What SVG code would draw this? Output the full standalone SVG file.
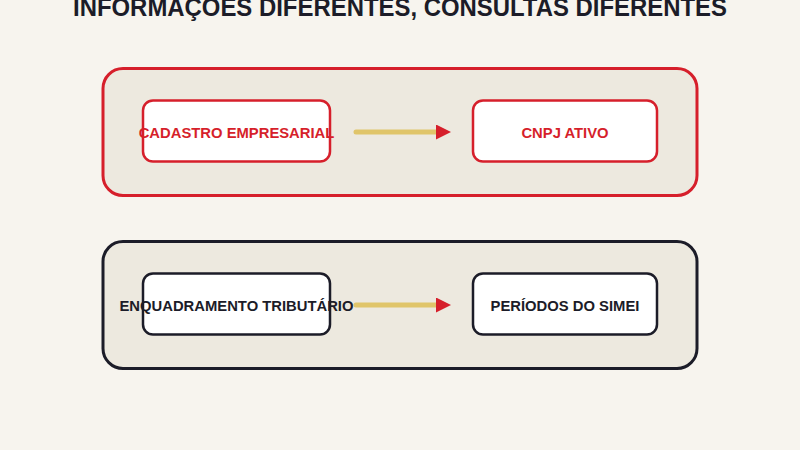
<svg xmlns="http://www.w3.org/2000/svg" width="800" height="450" viewBox="0 0 800 450">
<defs>
<style>
.bg{fill:#f7f4ee}
.outer{fill:#ede9df;stroke-width:3}
.inner{fill:#ffffff;stroke-width:2.5}
.red{stroke:#d61f2b}
.dark{stroke:#1c1c28}
.lbl{font-family:"Liberation Sans",Arial,sans-serif;font-weight:bold;font-size:14.8px;text-anchor:middle}
.tr{fill:#d61f2b}
.td{fill:#1c1c28}
.conn{stroke:#e0c56a;stroke-width:5;stroke-linecap:round;fill:none}
.title{font-family:"Liberation Sans",Arial,sans-serif;font-weight:bold;font-size:25px;fill:#1c1c28;text-anchor:middle}
</style>
<marker id="ah" viewBox="0 0 10 10" refX="0" refY="5" markerWidth="17" markerHeight="15" markerUnits="userSpaceOnUse" orient="auto">
<path d="M0,0 L10,5 L0,10 z" fill="#d61f2b"/>
</marker>
</defs>
<rect class="bg" x="0" y="0" width="800" height="450"/>
<text class="title" x="400" y="16" textLength="654" lengthAdjust="spacingAndGlyphs">INFORMAÇÕES DIFERENTES, CONSULTAS DIFERENTES</text>
<g id="group-cadastro">
<rect class="outer red" x="103" y="68.5" width="594" height="127" rx="20"/>
</g>
<g id="group-enquadramento">
<rect class="outer dark" x="103" y="241.5" width="594" height="127" rx="20"/>
</g>
<g id="connectors">
<line class="conn" x1="356" y1="132" x2="436" y2="132" marker-end="url(#ah)"/>
<line class="conn" x1="356" y1="305" x2="436" y2="305" marker-end="url(#ah)"/>
</g>
<g id="node-cadastro">
<rect class="inner red" x="143" y="100.5" width="187" height="61" rx="10"/>
<text class="lbl tr" x="236.5" y="137.5">CADASTRO EMPRESARIAL</text>
</g>
<g id="node-cnpj">
<rect class="inner red" x="473" y="100.5" width="184" height="61" rx="10"/>
<text class="lbl tr" x="565" y="137.5">CNPJ ATIVO</text>
</g>
<g id="node-enquadramento">
<rect class="inner dark" x="143" y="273.5" width="187" height="61" rx="10"/>
<text class="lbl td" x="236.5" y="310.5">ENQUADRAMENTO TRIBUTÁRIO</text>
</g>
<g id="node-periodos">
<rect class="inner dark" x="473" y="273.5" width="184" height="61" rx="10"/>
<text class="lbl td" x="565" y="310.5">PERÍODOS DO SIMEI</text>
</g>
</svg>
